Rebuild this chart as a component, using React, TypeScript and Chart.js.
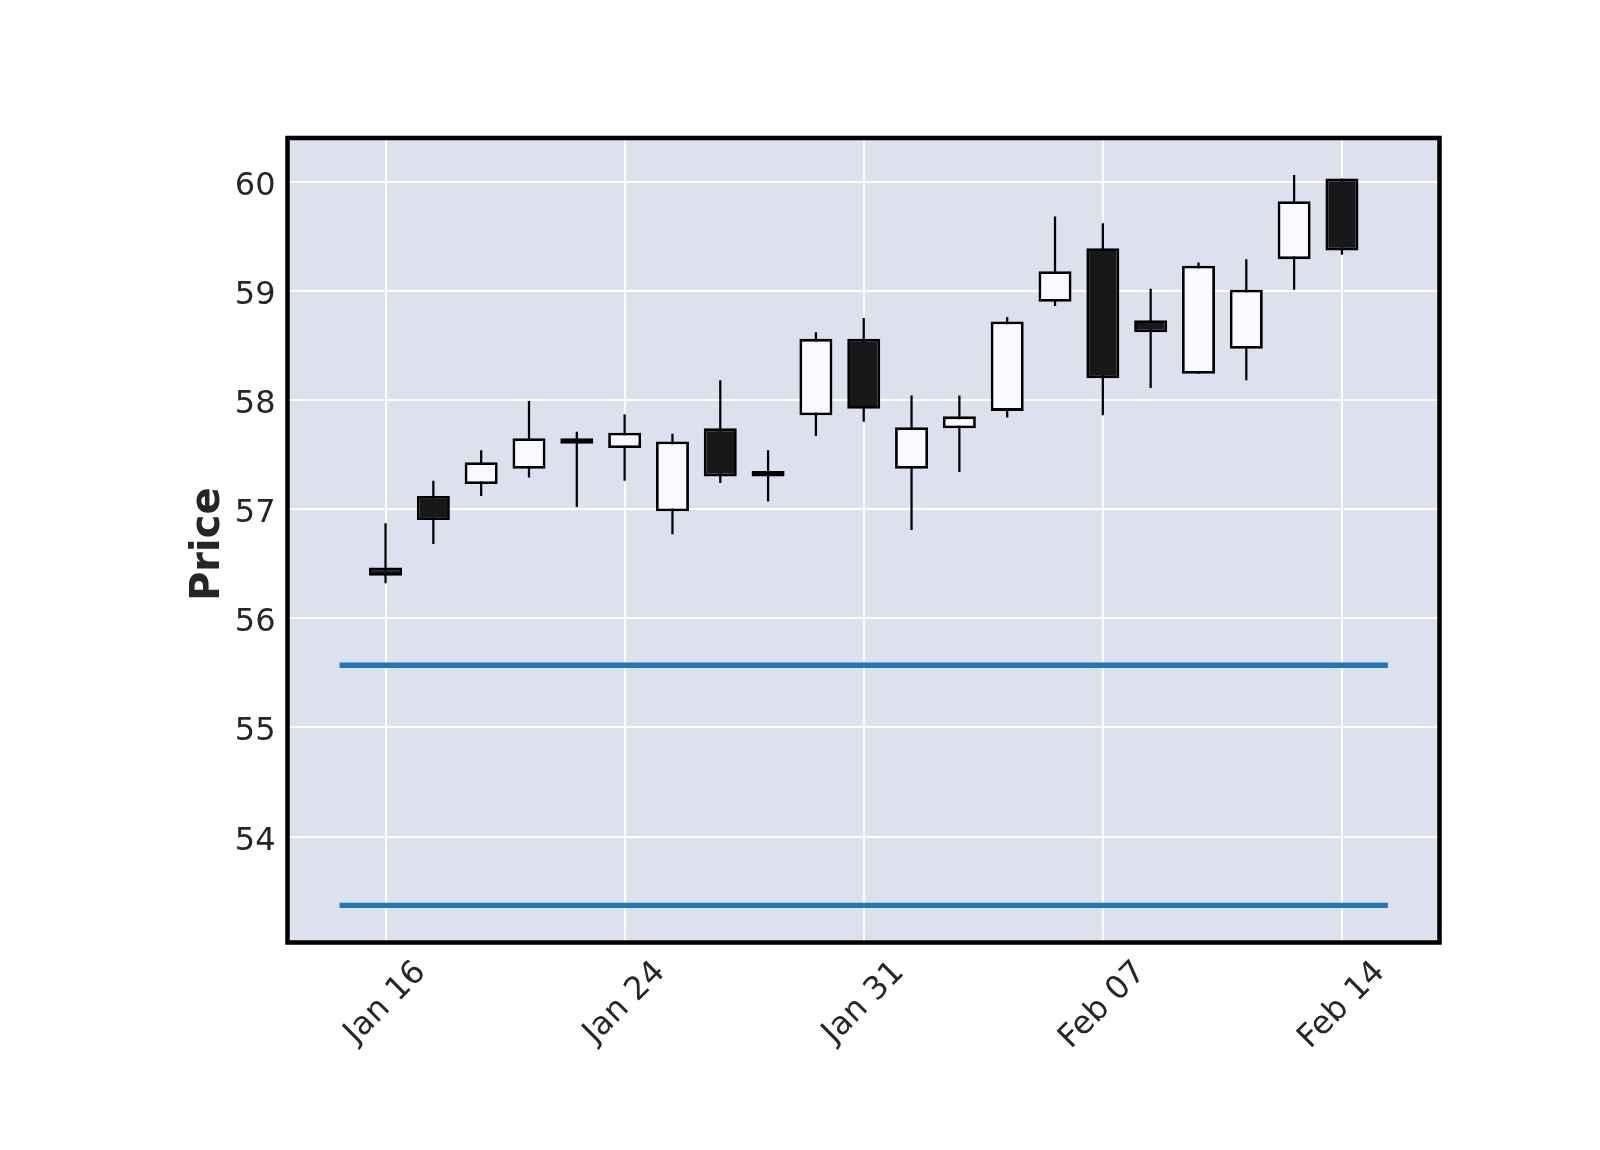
import React, { useEffect, useRef } from 'react';
import { Chart, registerables } from 'chart.js';

Chart.register(...registerables);

// ---- data ----
const dates = [
  'Jan 16', 'Jan 17', 'Jan 21', 'Jan 22', 'Jan 23', 'Jan 24', 'Jan 27', 'Jan 28', 'Jan 29', 'Jan 30', 'Jan 31',
  'Feb 03', 'Feb 04', 'Feb 05', 'Feb 06', 'Feb 07', 'Feb 10', 'Feb 11', 'Feb 12', 'Feb 13', 'Feb 14',
];
const opens = [56.465, 57.12, 57.23, 57.37, 57.65, 57.56, 56.98, 57.74, 57.35, 57.86, 58.56, 57.37, 57.74, 57.90, 58.90, 59.39, 58.73, 58.24, 58.47, 59.29, 60.03];
const highs = [56.87, 57.26, 57.54, 57.99, 57.71, 57.87, 57.69, 58.18, 57.54, 58.62, 58.75, 58.04, 58.04, 58.76, 59.68, 59.62, 59.02, 59.26, 59.29, 60.06, 60.03];
const lows = [56.32, 56.68, 57.12, 57.29, 57.02, 57.26, 56.77, 57.24, 57.07, 57.67, 57.80, 56.81, 57.34, 57.84, 58.86, 57.86, 58.11, 58.24, 58.18, 59.01, 59.33];
const closes = [56.39, 56.90, 57.43, 57.65, 57.60, 57.70, 57.62, 57.30, 57.30, 58.56, 57.92, 57.75, 57.85, 58.72, 59.18, 58.20, 58.62, 59.23, 59.01, 59.82, 59.37];

const xTickIndex = [0, 5, 10, 15, 20];
const xTickLabels = ['Jan 16', 'Jan 24', 'Jan 31', 'Feb 07', 'Feb 14'];
const yTicks = [54, 55, 56, 57, 58, 59, 60];
const yTickLabels = ['54', '55', '56', '57', '58', '59', '60'];
const hLineLevels = [55.57, 53.37];
const hLineSpan = [-0.96, 20.96];
const yRange = [53.03, 60.4];
const xRange = [-2.05, 22.04];

// ---- styles ----
const BG = '#dce1ed';
const UP_FILL = '#f9fafd';
const DOWN_FILL = '#18181b';
const TEXT = '#262626';
const FONT = '"DejaVu Sans", sans-serif';
const TICK_SIZE = 32;

const framePlugin = {
  id: 'framePlugin',
  beforeDraw(chart: any) {
    const { ctx, chartArea: a } = chart;
    ctx.save();
    ctx.fillStyle = BG;
    ctx.fillRect(a.left, a.top, a.right - a.left, a.bottom - a.top);
    ctx.restore();
  },
  afterDraw(chart: any) {
    const { ctx, chartArea: a } = chart;
    const xs = chart.scales.x;
    const ys = chart.scales.y;
    ctx.save();
    // spines
    ctx.strokeStyle = '#000';
    ctx.lineWidth = 4.5;
    ctx.lineJoin = 'miter';
    ctx.strokeRect(a.left, a.top, a.right - a.left, a.bottom - a.top);

    ctx.fillStyle = TEXT;
    ctx.font = `${TICK_SIZE}px ${FONT}`;

    // y tick labels
    ctx.textAlign = 'right';
    ctx.textBaseline = 'alphabetic';
    yTicks.forEach((v, i) => {
      const py = ys.getPixelForValue(v);
      ctx.fillText(yTickLabels[i], a.left - 12, py + TICK_SIZE * 0.364 + 1.3);
    });

    // x tick labels (rotated 45deg, bbox centered on tick like matplotlib)
    ctx.textAlign = 'left';
    const h = TICK_SIZE * 0.97;
    const d = TICK_SIZE * 0.22;
    const y0 = a.bottom + 14;
    const c45 = Math.SQRT1_2;
    xTickIndex.forEach((idx, i) => {
      const label = xTickLabels[i];
      const W = ctx.measureText(label).width;
      const bb = (W + h) * c45;
      const cx = xs.getPixelForValue(idx);
      const cy = y0 + bb / 2;
      ctx.save();
      ctx.translate(cx, cy);
      ctx.rotate(-Math.PI / 4);
      ctx.fillText(label, -W / 2, h / 2 - d);
      ctx.restore();
    });

    // y axis title
    ctx.font = `bold 40px ${FONT}`;
    ctx.textAlign = 'center';
    ctx.textBaseline = 'middle';
    ctx.translate(a.left - 79, (a.top + a.bottom) / 2 + 4);
    ctx.rotate(-Math.PI / 2);
    ctx.fillText('Price', 0, 0);
    ctx.restore();
  },
};

export default function App() {
  const canvasRef = useRef<HTMLCanvasElement | null>(null);

  useEffect(() => {
    const canvas = canvasRef.current;
    if (!canvas) return;

    const wickData = dates.map((_, i) => ({ x: i, y: [lows[i], highs[i]] }));
    const bodyData = dates.map((_, i) => ({ x: i, y: [opens[i], closes[i]] }));
    const bodyColors = dates.map((_, i) => (closes[i] >= opens[i] ? UP_FILL : DOWN_FILL));

    const lineSets = hLineLevels.map((lvl) => ({
      type: 'line' as const,
      data: hLineSpan.map((x) => ({ x, y: lvl })),
      borderColor: '#1f77b4',
      borderWidth: 5.3,
      borderCapStyle: 'butt' as const,
      pointRadius: 0,
      fill: false,
      order: 3,
    }));

    const chart = new Chart(canvas, {
      type: 'bar',
      data: {
        datasets: [
          {
            type: 'bar',
            data: wickData as any,
            backgroundColor: '#000000',
            borderWidth: 0,
            barPercentage: 0.047,
            categoryPercentage: 1,
            grouped: false,
            order: 2,
          },
          {
            type: 'bar',
            data: bodyData as any,
            backgroundColor: bodyColors,
            borderColor: '#000000',
            borderWidth: 2.8,
            borderSkipped: false,
            barPercentage: 0.69,
            categoryPercentage: 1,
            grouped: false,
            order: 1,
          },
          ...lineSets,
        ] as any,
      },
      options: {
        responsive: false,
        devicePixelRatio: 1,
        animation: false,
        layout: { padding: { left: 0, top: 138, right: 160.5, bottom: 0 } },
        plugins: {
          legend: { display: false },
          tooltip: { enabled: false },
        },
        scales: {
          x: {
            type: 'linear',
            min: xRange[0],
            max: xRange[1],
            offset: false,
            grid: { color: '#ffffff', lineWidth: 2, drawTicks: false, offset: false },
            border: { display: false },
            ticks: { display: false },
            afterBuildTicks: (scale: any) => {
              scale.ticks = xTickIndex.map((v) => ({ value: v }));
            },
            afterFit: (scale: any) => {
              scale.height = 207.5;
            },
          },
          y: {
            type: 'linear',
            min: yRange[0],
            max: yRange[1],
            grid: { color: '#ffffff', lineWidth: 2, drawTicks: false },
            border: { display: false },
            ticks: { display: false },
            afterBuildTicks: (scale: any) => {
              scale.ticks = yTicks.map((v) => ({ value: v }));
            },
            afterFit: (scale: any) => {
              scale.width = 287.5;
            },
          },
        },
      },
      plugins: [framePlugin],
    });

    return () => chart.destroy();
  }, []);

  return (
    <div style={{ position: 'absolute', left: 0, top: 0, width: 1600, height: 1150, background: '#ffffff' }}>
      <canvas ref={canvasRef} width={1600} height={1150} style={{ display: 'block', width: 1600, height: 1150 }} />
    </div>
  );
}
